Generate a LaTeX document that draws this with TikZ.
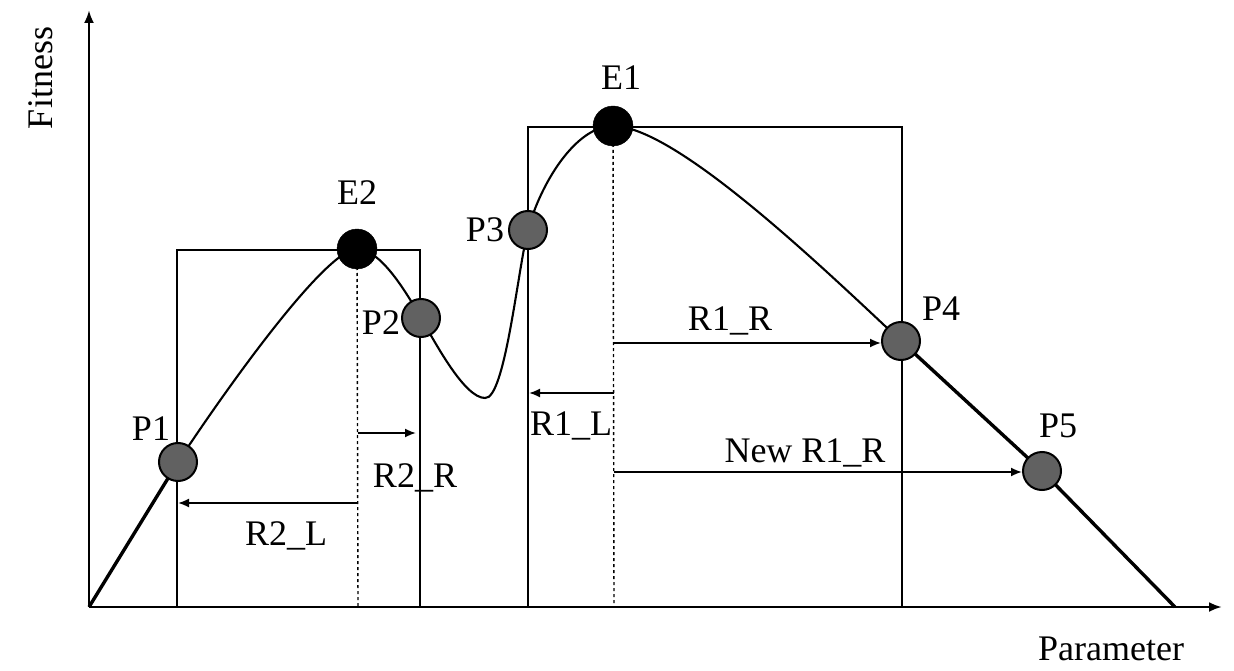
\documentclass[tikz,border=0pt]{standalone}
\usepackage{fontspec}
\setmainfont{Liberation Serif}
\usetikzlibrary{arrows.meta}
\begin{document}
\begin{tikzpicture}[x=1pt,y=-1pt,
  lbl/.style={anchor=base,inner sep=0pt,font=\fontsize{36}{40}\selectfont},
  axis/.style={line width=2.6pt,-{Latex[length=13pt,width=10pt]}},
  boxline/.style={line width=2.2pt},
  curveline/.style={line width=2.1pt},
  steepline/.style={line width=3.4pt},
  peak/.style={circle,fill=black,draw=black,minimum size=40pt,inner sep=0pt},
  probe/.style={circle,fill=black!62,draw=black,line width=2pt,minimum size=38pt,inner sep=0pt},
  guide/.style={line width=1.4pt,dash pattern=on 3pt off 3pt},
  span/.style={line width=1.8pt,-{Latex[length=11pt,width=9pt]}}]
\useasboundingbox (0,0) rectangle (1234,671);

% axes
\coordinate (O) at (89,607);
\coordinate (Ytop) at (89,10);
\coordinate (Xend) at (1222,607);
\draw[axis] (O) -- (Ytop);
\draw[axis] (O) -- (Xend);
\node[lbl,rotate=90] (fit) at (52,78) {Fitness};
\node[lbl] (par) at (1111,660) {Parameter};

% search windows
\draw[boxline] (177,607) -- (177,250) -- (420,250) -- (420,607);
\draw[boxline] (528,607) -- (528,127) -- (902,127) -- (902,607);

% fitness curve
\coordinate (c0) at (89,607);
\coordinate (c1) at (178,462);
\coordinate (c2) at (357,249);
\coordinate (c3) at (421,318);
\coordinate (c4) at (485,398);
\coordinate (c5) at (528,230);
\coordinate (c6) at (613,126);
\coordinate (c7) at (901,341);
\coordinate (c8) at (1042,471);
\coordinate (c9) at (1175,607);
\draw[steepline] (c0) -- (c1);
\draw[curveline] (c1) .. controls (222,395) and (325,249) .. (c2)
  .. controls (380,249) and (405,290) .. (c3)
  .. controls (437,346) and (465,398) .. (c4)
  .. controls (505,400) and (518,268) .. (c5)
  .. controls (540,185) and (575,126) .. (c6)
  .. controls (675,126) and (820,265) .. (c7);
\draw[steepline] (c7) -- (c8) -- (c9);

% peak guides
\coordinate (E2b) at (358,607);
\coordinate (E1b) at (614,607);
\draw[guide] (c2) -- (E2b);
\draw[guide] (c6) -- (E1b);

% points
\node[peak] (E2) at (c2) {};
\node[peak] (E1) at (c6) {};
\node[probe] (P1) at (c1) {};
\node[probe] (P2) at (c3) {};
\node[probe] (P3) at (c5) {};
\node[probe] (P4) at (c7) {};
\node[probe] (P5) at (c8) {};

\node[lbl] (lE1) at (621,90) {E1};
\node[lbl] (lE2) at (357,205) {E2};
\node[lbl] (lP1) at (151,440) {P1};
\node[lbl] (lP2) at (381,334) {P2};
\node[lbl] (lP3) at (485,241) {P3};
\node[lbl] (lP4) at (941,320) {P4};
\node[lbl] (lP5) at (1058,437) {P5};

% radius arrows
\coordinate (r2rs) at (358,433);
\coordinate (r2re) at (416,433);
\coordinate (r2ls) at (358,503);
\coordinate (r2le) at (178,503);
\coordinate (r1ls) at (614,393);
\coordinate (r1le) at (529,393);
\coordinate (r1rs) at (614,343);
\coordinate (nr1rs) at (614,472);
\draw[span] (r2rs) -- (r2re);
\draw[span] (r2ls) -- (r2le);
\draw[span] (r1ls) -- (r1le);
\draw[span] (r1rs) -- (P4.west |- r1rs);
\draw[span] (nr1rs) -- (P5.west |- nr1rs);

\node[lbl] (lR2R) at (415,487) {R2\_R};
\node[lbl] (lR2L) at (286,545) {R2\_L};
\node[lbl] (lR1L) at (571,435) {R1\_L};
\node[lbl] (lR1R) at (730,330) {R1\_R};
\node[lbl] (lNR1R) at (805,462) {New R1\_R};
\end{tikzpicture}
\end{document}
